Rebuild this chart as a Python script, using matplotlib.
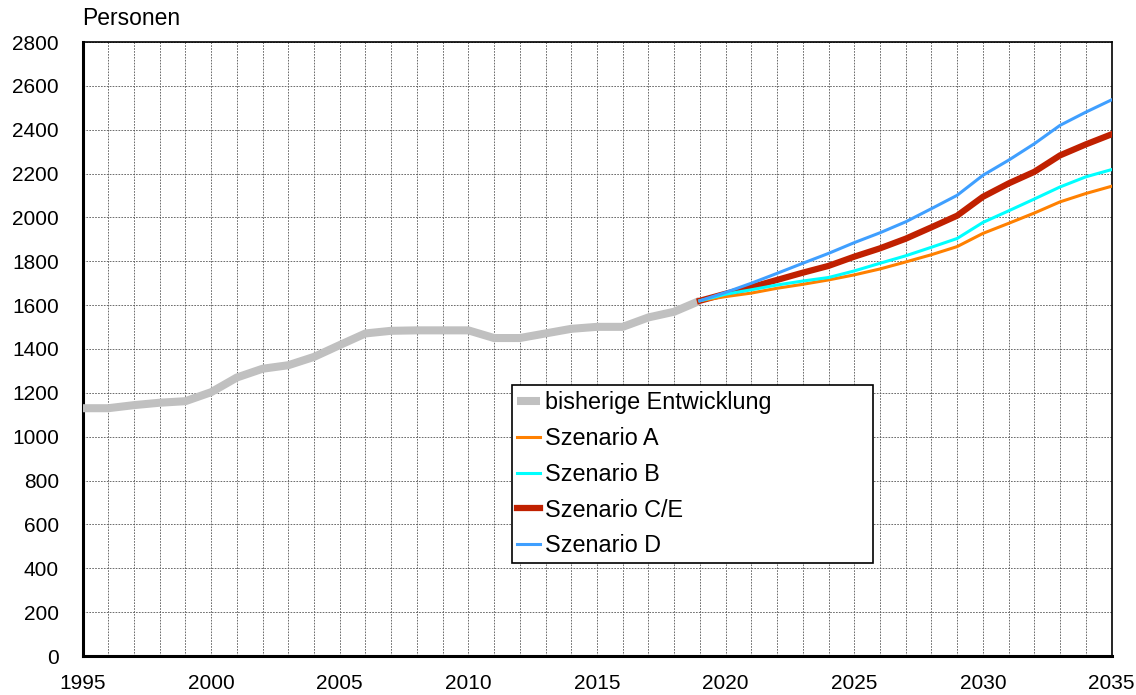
import numpy as np
import matplotlib
matplotlib.use("Agg")
import matplotlib.pyplot as plt

plt.rcParams['font.family'] = ['Liberation Sans', 'DejaVu Sans']

# bisherige Entwicklung 1995-2019
years_hist = list(range(1995, 2020))
hist = [1130, 1130, 1144, 1155, 1162, 1203, 1270, 1310, 1326, 1364,
        1418, 1471, 1483, 1485, 1485, 1485, 1450, 1450, 1471, 1492,
        1501, 1501, 1544, 1570, 1620]

# Szenarien 2019-2035
years_scen = list(range(2019, 2036))
scen_a = [1620, 1639, 1655, 1677, 1695, 1715, 1738, 1765, 1797, 1830,
          1867, 1927, 1973, 2020, 2071, 2109, 2142]
scen_b = [1620, 1650, 1670, 1692, 1710, 1726, 1756, 1791, 1825, 1864,
          1904, 1977, 2030, 2084, 2139, 2185, 2218]
scen_ce = [1620, 1652, 1682, 1715, 1748, 1779, 1821, 1859, 1903, 1955,
           2008, 2094, 2155, 2208, 2283, 2333, 2379]
scen_d = [1620, 1658, 1700, 1745, 1791, 1836, 1885, 1930, 1980, 2040,
          2101, 2192, 2261, 2336, 2420, 2480, 2536]

fig = plt.figure(figsize=(11.36, 6.95), dpi=100)
ax = fig.add_axes([82.5 / 1136, 1 - 656 / 695, 1029 / 1136, 614 / 695])

ax.plot(years_hist, hist, color='#C0C0C0', lw=5.8, solid_capstyle='butt',
        label='bisherige Entwicklung', zorder=3)
ax.plot(years_scen, scen_ce, color='#C02000', lw=4.5, label='Szenario C/E', zorder=4)
ax.plot(years_scen, scen_a, color='#FF8000', lw=2.2, label='Szenario A', zorder=5)
ax.plot(years_scen, scen_b, color='#00FFFF', lw=2.2, label='Szenario B', zorder=5)
ax.plot(years_scen, scen_d, color='#3F9FFF', lw=2.2, label='Szenario D', zorder=5)

ax.set_xlim(1995, 2035)
ax.set_ylim(0, 2800)
ax.set_xticks(range(1995, 2036, 5))
ax.set_xticks(range(1995, 2036), minor=True)
ax.set_yticks(range(0, 2801, 200))
ax.tick_params(which='both', length=0, labelsize=15, colors='black')
ax.tick_params(axis='x', pad=13)
ax.tick_params(axis='y', pad=17)

ax.grid(which='both', axis='x', color='#555555', lw=0.6, ls=(0, (2, 1.5)), zorder=1)
ax.grid(which='major', axis='y', color='#555555', lw=0.6, ls=(0, (2, 1.5)), zorder=1)

for side in ['top', 'right']:
    ax.spines[side].set_linewidth(1.2)
for side in ['left', 'bottom']:
    ax.spines[side].set_linewidth(2.2)

ax.text(0.0, 1.02, 'Personen', transform=ax.transAxes, fontsize=16.5, va='bottom', ha='left')

handles, labels = ax.get_legend_handles_labels()
order = ['bisherige Entwicklung', 'Szenario A', 'Szenario B', 'Szenario C/E', 'Szenario D']
hmap = dict(zip(labels, handles))
leg = ax.legend([hmap[k] for k in order], order, loc='lower left',
                bbox_to_anchor=(0.417, 0.151, 0.351, 0.292), mode='expand',
                fontsize=16.8, frameon=True, fancybox=False, framealpha=1,
                edgecolor='black', handlelength=0.95, handletextpad=0.22,
                borderpad=0.25, labelspacing=0.55, borderaxespad=0)
leg.get_frame().set_linewidth(1.2)
leg.set_zorder(10)

fig.savefig('out.png', dpi=100)
